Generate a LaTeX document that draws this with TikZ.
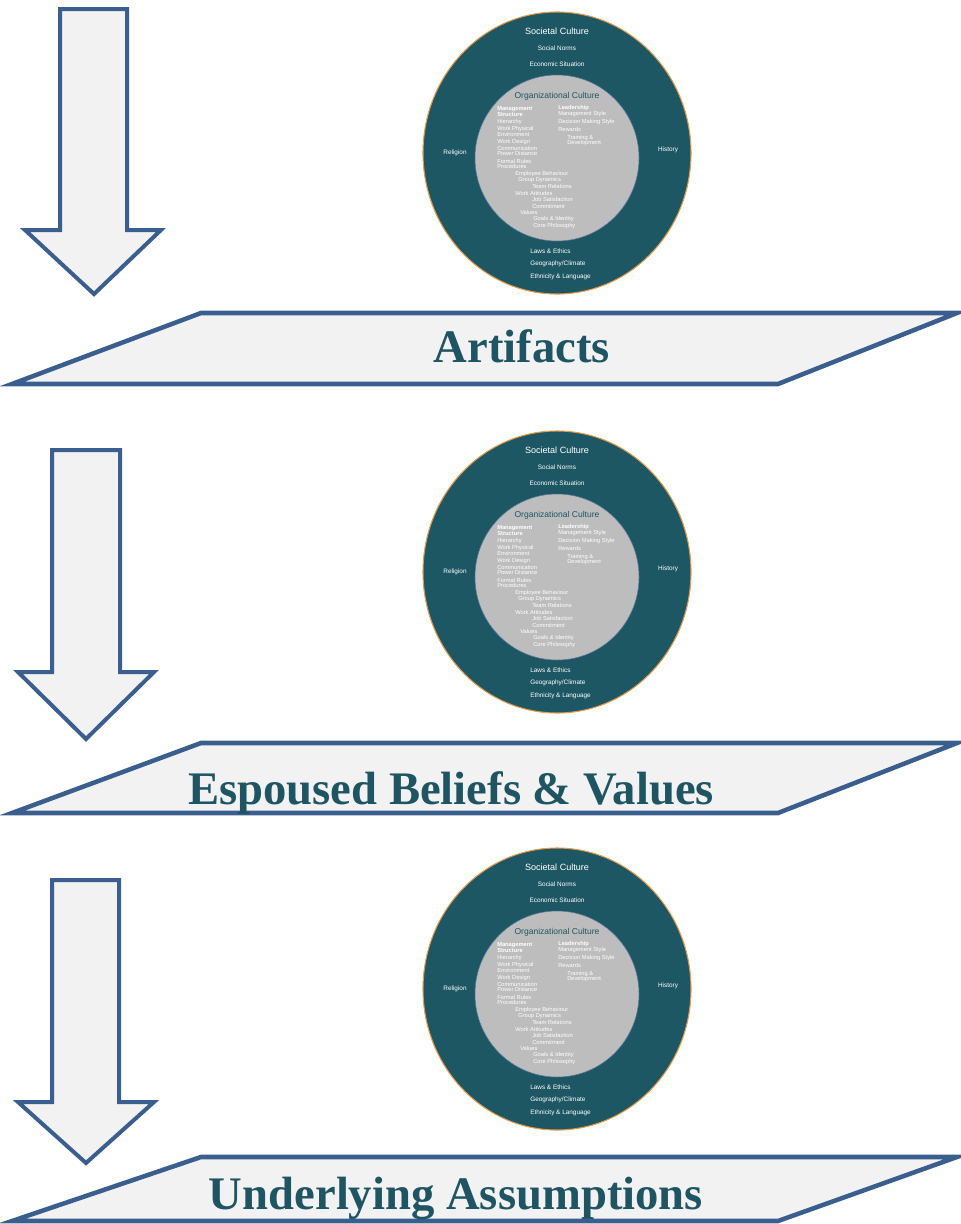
\documentclass[tikz,border=0pt]{standalone}
\usepackage{fontspec}
\setmainfont{Liberation Serif}
\newfontfamily\tinysans{Liberation Sans}
\definecolor{ringteal}{HTML}{1E5764}
\definecolor{ringedge}{HTML}{E39A4C}
\definecolor{coregrey}{HTML}{BDBDBD}
\definecolor{coreedge}{HTML}{5A78A0}
\definecolor{arrowblue}{HTML}{3A5F8E}
\definecolor{panelfill}{HTML}{F2F2F2}
\definecolor{headteal}{HTML}{1F5562}
\tikzset{
  downarrow/.style={draw=arrowblue, fill=panelfill, line width=3pt, line join=miter},
  levelpanel/.style={draw=arrowblue, fill=panelfill, line width=3.4pt, line join=miter},
  levelhead/.style={text=headteal, font=\bfseries\fontsize{35}{38}\selectfont, anchor=base, inner sep=0pt},
  ringtxt/.style={text=white, font=\tinysans\fontsize{4.8}{5}\selectfont, inner sep=0pt},
  ringtitle/.style={text=white, font=\tinysans\fontsize{6.8}{7}\selectfont, inner sep=0pt},
  coretitle/.style={text=headteal, font=\tinysans\fontsize{6.4}{7}\selectfont, inner sep=0pt},
  coretxt/.style={text=white, font=\tinysans\fontsize{4.3}{5}\selectfont, inner sep=0pt, anchor=west},
  corebold/.style={coretxt, font=\tinysans\bfseries\fontsize{4.3}{5}\selectfont},
  culture/.pic={
    \fill[ringteal] (0,0) ellipse [x radius=134, y radius=141];
    \draw[ringedge, line width=0.8pt] (0,0) ellipse [x radius=134, y radius=141];
    \draw[coreedge, line width=0.4pt, fill=coregrey] (0,5) ellipse [x radius=82, y radius=83];
    \node[ringtitle] (-soc) at (0,-122) {Societal Culture};
    \node[ringtxt] (-t1) at (0,-105) {Social Norms};
    \node[ringtxt] (-t2) at (0,-89) {Economic Situation};
    \node[ringtxt] (-left) at (-102,0) {Religion};
    \node[ringtxt] (-right) at (111,-3) {History};
    \node[ringtxt, anchor=west] (-b1) at (-27,98) {Laws \& Ethics};
    \node[ringtxt, anchor=west] (-b2) at (-27,111) {Geography/Climate};
    \node[ringtxt, anchor=west] (-b3) at (-27,124) {Ethnicity \& Language};
    \node[coretitle] (-org) at (0,-57) {Organizational Culture};
    % left column
    \node[corebold] (-l1) at (-60,-44) {Management};
    \node[corebold] (-l2) at (-60,-38) {Structure};
    \node[coretxt] (-l3) at (-60,-31) {Hierarchy};
    \node[coretxt] (-l4) at (-60,-24) {Work Physical};
    \node[coretxt] (-l5) at (-60,-19) {Environment};
    \node[coretxt] (-l6) at (-60,-11) {Work Design};
    \node[coretxt] (-l7) at (-60,-5) {Communication};
    \node[coretxt] (-l8) at (-60,0) {Power Distance};
    \node[coretxt] (-l9) at (-60,8) {Formal Rules};
    \node[coretxt] (-l10) at (-60,13) {Procedures};
    % right column
    \node[corebold] (-r1) at (1,-45) {Leadership};
    \node[coretxt] (-r2) at (1,-39) {Management Style};
    \node[coretxt] (-r3) at (1,-31) {Decision Making Style};
    \node[coretxt] (-r4) at (1,-24) {Rewards};
    \node[coretxt] (-r5) at (10,-15) {Training \&};
    \node[coretxt] (-r6) at (10,-10) {Development};
    % lower block
    \node[coretxt] (-m1) at (-42,21) {Employee Behaviour};
    \node[coretxt] (-m2) at (-39,27) {Group Dynamics};
    \node[coretxt] (-m3) at (-25,33) {Team Relations};
    \node[coretxt] (-m4) at (-42,40) {Work Attitudes};
    \node[coretxt] (-m5) at (-25,46) {Job Satisfaction};
    \node[coretxt] (-m6) at (-25,53) {Commitment};
    \node[coretxt] (-m7) at (-37,59) {Values};
    \node[coretxt] (-m8) at (-24,66) {Goals \& Identity};
    \node[coretxt] (-m9) at (-24,73) {Core Philosophy};
  }
}
\begin{document}
\begin{tikzpicture}[x=0.75pt,y=-0.75pt]
\useasboundingbox (0,0) rectangle (960,1224);
% level 1
\draw[downarrow] (60,9) -- (127,9) -- (127,230) -- (161,230) -- (94,294) -- (25,230) -- (60,230) -- cycle;
\pic (c1) at (557,153) {culture};
\draw[levelpanel] (201,313) -- (957,313) -- (778,384) -- (12,384) -- cycle;
\node[levelhead] (h1) at (522,362) {Artifacts};
% level 2
\draw[downarrow] (52,450) -- (120,450) -- (120,672) -- (154,672) -- (86,739) -- (18,672) -- (52,672) -- cycle;
\pic (c2) at (557,572) {culture};
\draw[levelpanel] (201,743) -- (957,743) -- (778,813) -- (12,813) -- cycle;
\node[levelhead] (h2) at (451,804) {Espoused Beliefs \& Values};
% level 3
\draw[downarrow] (52,880) -- (119,880) -- (119,1102) -- (154,1102) -- (86,1163) -- (18,1102) -- (52,1102) -- cycle;
\pic (c3) at (557,989) {culture};
\draw[levelpanel] (201,1157) -- (957,1157) -- (778,1221) -- (12,1221) -- cycle;
\node[levelhead] (h3) at (456,1209) {Underlying Assumptions};
\end{tikzpicture}
\end{document}
